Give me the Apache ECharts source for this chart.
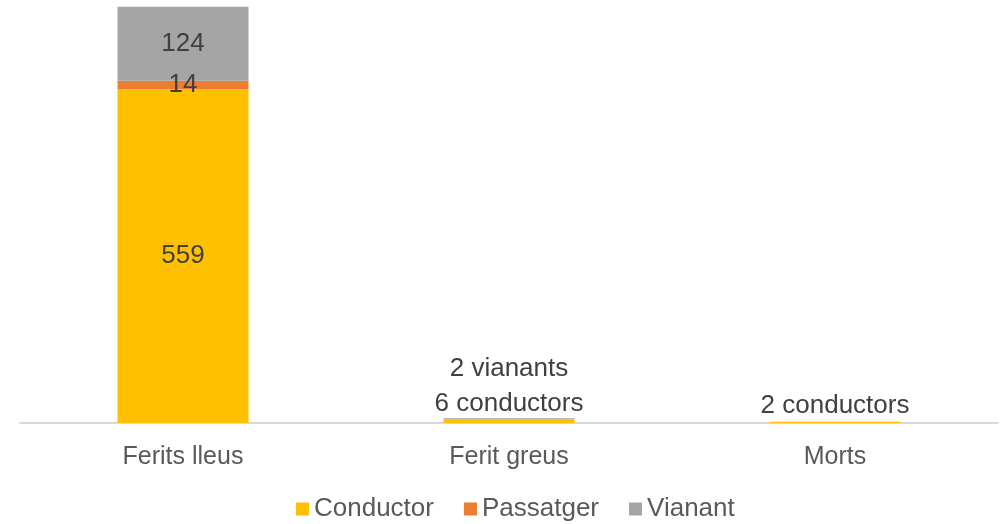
<!DOCTYPE html>
<html>
<head>
<meta charset="utf-8">
<script src="https://cdn.jsdelivr.net/npm/echarts@6/dist/echarts.min.js"></script>
<style>
  html, body { margin: 0; padding: 0; background: #fff; }
  #chart { width: 1005px; height: 524px; }
</style>
</head>
<body>
<div id="chart"></div>
<script>
var categories = ['Ferits lleus', 'Ferit greus', 'Morts'];
var conductor = [559, 6, 2];
var passatger = [14, 0, 0];
var vianant = [124, 2, 0];

var txt = '#404040';
var font = 'Liberation Sans, Arial, sans-serif';

// labels: first bar inside, the small ones written out above
function conductorData() {
  return conductor.map(function (v, i) {
    if (i === 0) return v;
    return {
      value: v,
      label: { show: true, position: 'top', distance: 3, formatter: '{c} conductors' }
    };
  });
}
function passatgerData() {
  return passatger.map(function (v, i) {
    if (i === 0) return v;
    return { value: v, label: { show: false } };
  });
}
function vianantData() {
  return vianant.map(function (v, i) {
    if (i === 0) return v;
    if (v === 0) return { value: v, label: { show: false } };
    return {
      value: v,
      label: { show: true, position: 'top', distance: 36, formatter: '{c} vianants' }
    };
  });
}

var chart = echarts.init(document.getElementById('chart'));
var option = {
  animation: false,
  textStyle: { fontFamily: font },
  grid: { left: 20, right: 7, top: 5, bottom: 101 },
  legend: {
    bottom: -3,
    left: 291,
    itemWidth: 13,
    itemHeight: 13,
    itemGap: 30,
    icon: 'rect',
    textStyle: { fontSize: 26, color: '#595959', fontFamily: font },
    data: ['Conductor', 'Passatger', 'Vianant']
  },
  xAxis: {
    type: 'category',
    data: categories,
    axisLine: { lineStyle: { color: '#d9d9d9', width: 2 } },
    axisTick: { show: false },
    axisLabel: { fontSize: 25, color: '#595959', margin: 22, fontFamily: font }
  },
  yAxis: {
    type: 'value',
    min: 0,
    max: 700,
    show: false,
    splitLine: { show: false }
  },
  series: [
    {
      name: 'Conductor',
      type: 'bar',
      stack: 'total',
      barWidth: 131,
      itemStyle: { color: '#ffc000' },
      label: { show: true, position: 'inside', fontSize: 26, color: txt, fontFamily: font },
      data: conductorData()
    },
    {
      name: 'Passatger',
      type: 'bar',
      stack: 'total',
      itemStyle: { color: '#ed7d31' },
      label: { show: true, position: 'inside', fontSize: 26, color: txt, fontFamily: font },
      data: passatgerData()
    },
    {
      name: 'Vianant',
      type: 'bar',
      stack: 'total',
      itemStyle: { color: '#a5a5a5' },
      label: { show: true, position: 'inside', fontSize: 26, color: txt, fontFamily: font },
      data: vianantData()
    }
  ]
};
chart.setOption(option);
</script>
</body>
</html>
